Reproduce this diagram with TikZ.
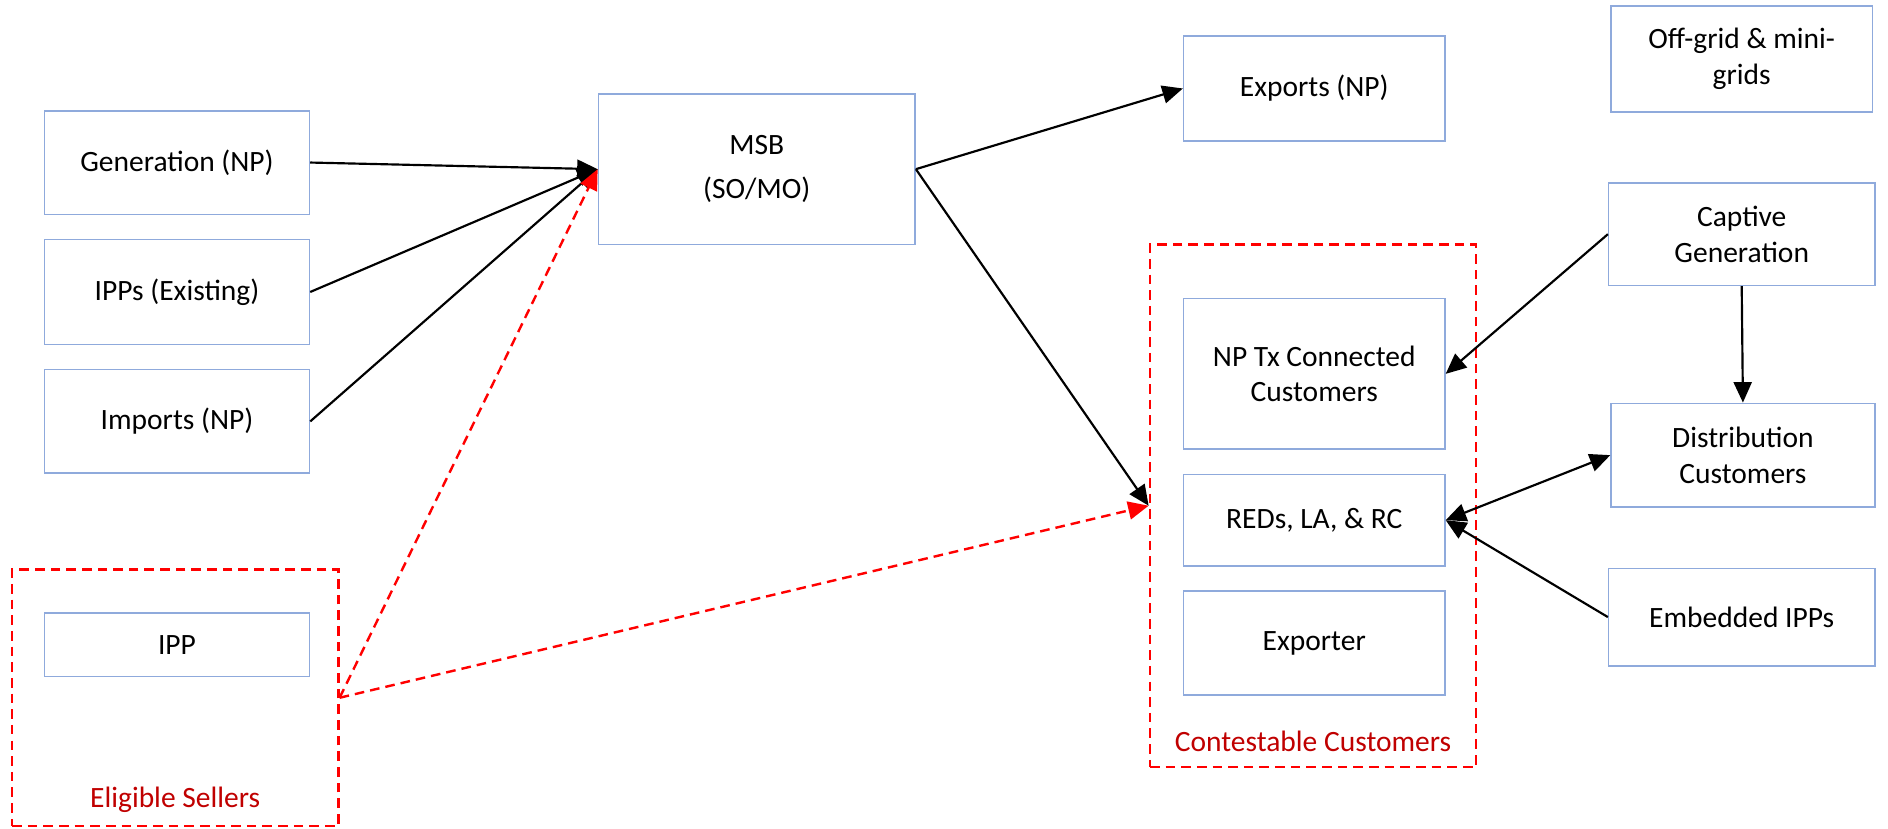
\documentclass[tikz,border=0pt]{standalone}
\usepackage{fontspec}
\setmainfont{Carlito}
\usetikzlibrary{arrows.meta}

\definecolor{cajaazul}{RGB}{143,170,220}
\definecolor{rojooscuro}{RGB}{192,0,0}

\begin{document}
\begin{tikzpicture}[x=1pt,y=1pt,
  caja/.style={draw=cajaazul, line width=1.3pt, align=center, inner sep=0pt,
    font=\fontsize{24.5}{29.5}\selectfont},
  grupo/.style={draw=red, line width=2.1pt, dash pattern=on 8pt off 5pt, inner sep=0pt},
  punta/.tip={Triangle[length=17pt,width=15pt]},
  flecha/.style={line width=1.8pt, -punta},
  flecharoja/.style={flecha, red, line width=2pt, dash pattern=on 8pt off 5pt},
  etiqueta/.style={text=rojooscuro, anchor=base, font=\fontsize{24.5}{29.5}\selectfont}]

  \useasboundingbox (0,0) rectangle (1568,688);

  % Grupos
  \node[grupo, minimum width=271pt, minimum height=213pt] (es) at (145.5,108.5) {};
  \node[grupo, minimum width=271pt, minimum height=434pt] (cc) at (1090.5,268) {};
  \node[etiqueta] (eslbl) at (145.5,17) {Eligible Sellers};
  \node[etiqueta] (cclbl) at (1090.5,64) {Contestable Customers};

  % Vendedores
  \node[caja, minimum width=220pt, minimum height=86pt] (gen) at (147,553) {Generation (NP)};
  \node[caja, minimum width=220pt, minimum height=87pt] (ipps) at (147,445.5) {IPPs (Existing)};
  \node[caja, minimum width=220pt, minimum height=86pt] (imp) at (147,338) {Imports (NP)};
  \node[caja, minimum width=220pt, minimum height=53pt] (ipp) at (147,152.5) {IPP};

  % Mercado
  \node[caja, minimum width=263pt, minimum height=125pt, font=\fontsize{24.5}{37}\selectfont]
    (msb) at (628.5,547.5) {MSB\\(SO/MO)};
  \node[caja, minimum width=217pt, minimum height=87pt] (exp) at (1091.5,614.5) {Exports (NP)};

  % Clientes
  \node[caja, minimum width=217pt, minimum height=125pt] (nptx) at (1091.5,377.5) {NP Tx Connected\\Customers};
  \node[caja, minimum width=217pt, minimum height=76pt] (reds) at (1091.5,256) {REDs, LA, \& RC};
  \node[caja, minimum width=217pt, minimum height=86pt] (expr) at (1091.5,154) {Exporter};

  % Columna derecha
  \node[caja, minimum width=217pt, minimum height=88pt] (off) at (1446.5,639) {Off-grid \& mini-\\grids};
  \node[caja, minimum width=221pt, minimum height=85pt] (cap) at (1446.5,493.5) {Captive\\Generation};
  \node[caja, minimum width=219pt, minimum height=86pt] (dist) at (1447.5,310) {Distribution\\Customers};
  \node[caja, minimum width=221pt, minimum height=81pt] (emb) at (1446.5,175.5) {Embedded IPPs};

  % Flujos
  \draw[flecha] (gen.east) -- (msb.west);
  \draw[flecha] (ipps.east) -- (msb.west);
  \draw[flecha] (imp.east) -- (msb.west);
  \draw[flecharoja] (es.east) -- (msb.west);
  \draw[flecharoja] (es.east) -- (cc.west);
  \draw[flecha] (msb.east) -- (exp.west);
  \draw[flecha] (msb.east) -- (cc.west);
  \draw[flecha] (cap.west) -- (nptx.east);
  \draw[flecha] (cap.south) -- (dist.north);
  \draw[flecha, punta-punta] (reds.east) -- (dist.west);
  \draw[flecha] (emb.west) -- (reds.east);
\end{tikzpicture}
\end{document}
